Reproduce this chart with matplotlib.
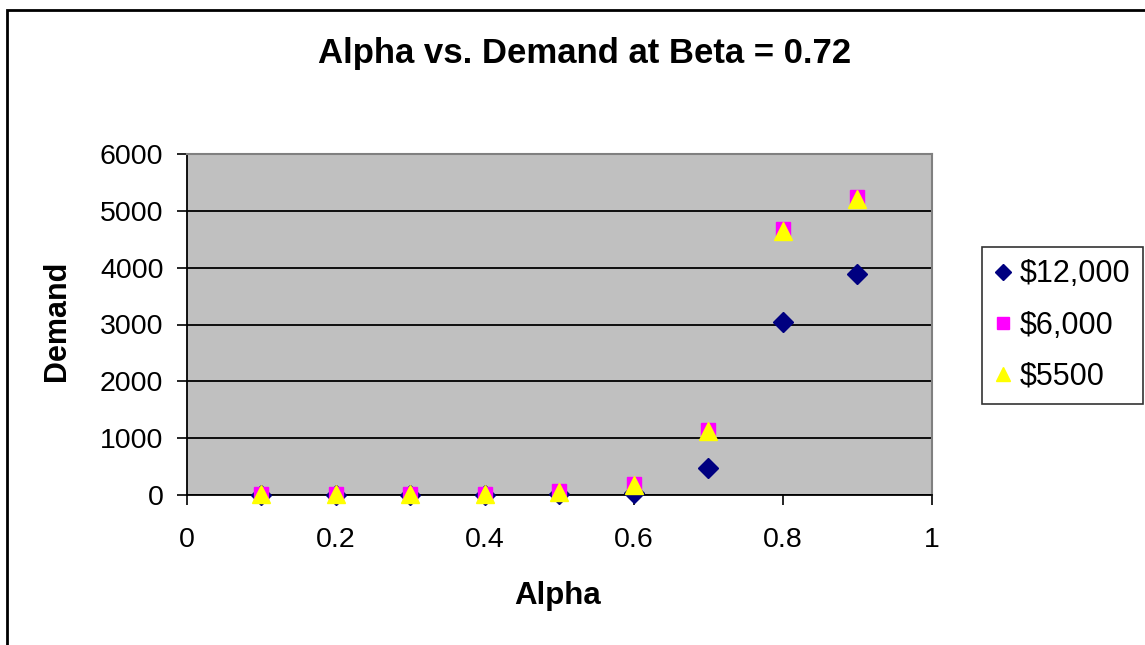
import matplotlib
matplotlib.use("Agg")
import matplotlib.pyplot as plt
from matplotlib.patches import Rectangle

plt.rcParams['font.family'] = ['Liberation Sans', 'DejaVu Sans']

alpha = [0.1, 0.2, 0.3, 0.4, 0.5, 0.6, 0.7, 0.8, 0.9]
demand_12000 = [3, 3, 4, 5, 15, 30, 470, 3050, 3890]
demand_6000 = [20, 20, 20, 25, 70, 200, 1150, 4680, 5240]
demand_5500 = [15, 15, 15, 20, 60, 180, 1120, 4650, 5200]
series_labels = ['$12,000', '$6,000', '$5500']
x_ticks = [0, 0.2, 0.4, 0.6, 0.8, 1]
y_ticks = [0, 1000, 2000, 3000, 4000, 5000, 6000]

W, H = 1145, 645
fig = plt.figure(figsize=(W / 100, H / 100), dpi=100)
fig.patch.set_facecolor('white')

# outer chart frame
fig.add_artist(Rectangle((7 / W, -0.05), 1.2, (H - 10) / H + 0.05,
                         transform=fig.transFigure, fill=False,
                         edgecolor='black', linewidth=2))

ax = fig.add_axes([187 / W, 1 - 495 / H, (932 - 187) / W, (495 - 154) / H])
ax.set_facecolor('#C0C0C0')
ax.set_xlim(0, 1)
ax.set_ylim(0, 6000)
ax.set_xticks(x_ticks)
ax.set_xticklabels(['0', '0.2', '0.4', '0.6', '0.8', '1'])
ax.set_yticks(y_ticks)
ax.set_yticklabels([str(v) for v in y_ticks])
ax.tick_params(axis='both', direction='out', length=7, width=1.2,
               labelsize=20.5, colors='black')
ax.tick_params(axis='y', pad=10)
ax.tick_params(axis='x', pad=16)
ax.yaxis.grid(True, color='black', linewidth=1.3)
ax.set_axisbelow(True)
for side in ('top', 'right'):
    ax.spines[side].set_color('#808080')
    ax.spines[side].set_linewidth(1.5)
for side in ('left', 'bottom'):
    ax.spines[side].set_color('black')
    ax.spines[side].set_linewidth(1.3)

ax.plot(alpha, demand_12000, linestyle='none', marker='D', markersize=10,
        color='#000080', label=series_labels[0], clip_on=False, zorder=3)
ax.plot(alpha, demand_6000, linestyle='none', marker='s', markersize=10.5,
        color='#FF00FF', label=series_labels[1], clip_on=False, zorder=4)
ax.plot(alpha, demand_5500, linestyle='none', marker='^', markersize=12.5,
        color='#FFFF00', label=series_labels[2], clip_on=False, zorder=5)

fig.text(585 / W, 1 - 54 / H, 'Alpha vs. Demand at Beta = 0.72',
         ha='center', va='center', fontsize=25, fontweight='bold')
fig.text(558 / W, 1 - 596 / H, 'Alpha', ha='center', va='center',
         fontsize=22.5, fontweight='bold')
fig.text(57 / W, 1 - 321 / H, 'Demand', ha='center', va='center',
         fontsize=22, fontweight='bold', rotation=90)

leg = fig.legend(loc='upper left', bbox_to_anchor=(982 / W, 1 - 247 / H),
                 frameon=True, fancybox=False, edgecolor='black',
                 fontsize=22, handlelength=0.55, handletextpad=0.3,
                 borderpad=0.4, labelspacing=0.7, borderaxespad=0,
                 markerscale=0.85)
leg.get_frame().set_linewidth(1.2)

fig.savefig('out.png', dpi=100, facecolor='white')
